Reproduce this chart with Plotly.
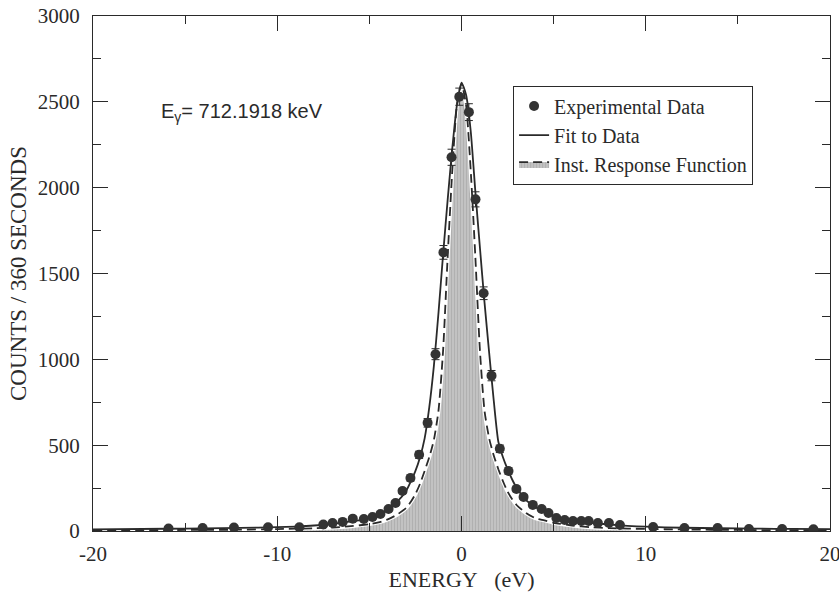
import plotly.graph_objects as go

# Experimental data (energy in eV, counts / 360 s, error)
exp_e = [-15.9, -14.05, -12.35, -10.5, -8.8, -7.5, -7.0, -6.45, -5.9, -5.3,
         -4.83, -4.4, -3.96, -3.58, -3.2, -2.77, -2.3, -1.84, -1.41, -0.98,
         -0.54, -0.12, 0.4, 0.76, 1.2, 1.63, 2.08, 2.55, 2.98, 3.37,
         3.87, 4.35, 4.72, 5.15, 5.6, 6.05, 6.5, 6.9, 7.4, 8.0,
         8.6, 10.4, 12.1, 13.9, 15.6, 17.4, 19.1]
exp_y = [15, 17, 20, 22, 22, 38, 47, 53, 72, 70,
         82, 99, 128, 163, 233, 309, 444, 630, 1030, 1623,
         2177, 2530, 2440, 1932, 1385, 905, 479, 350, 245, 198,
         152, 128, 105, 76, 64, 58, 58, 58, 47, 47,
         35, 23, 17, 17, 12, 12, 10]
exp_err = [4, 4, 4.5, 5, 5, 6, 7, 7, 8.5, 8.4,
           9, 10, 11, 13, 15, 18, 21, 25, 32, 40,
           47, 50, 49, 44, 37, 30, 22, 19, 16, 14,
           12, 11, 10, 9, 8, 8, 8, 8, 7, 7,
           6, 5, 4, 4, 3.5, 3.5, 3]

# Fit to data
fit_e = [-20, -16, -14, -12, -10, -9, -8, -7, -6, -5.5, -5, -4.5, -4, -3.5, -3,
         -2.75, -2.5, -2.25, -2, -1.75, -1.5, -1.25, -1, -0.75, -0.5, -0.25, 0,
         0.25, 0.5, 0.75, 1.0, 1.25, 1.5, 1.75, 2.0, 2.25, 2.5, 2.75, 3.0, 3.5,
         4.0, 4.5, 5.0, 5.5, 6.0, 7.0, 8.0, 9.0, 10, 12, 14, 16, 18, 20]
fit_y = [10, 13, 15, 18, 22, 26, 32, 42, 56, 64, 76, 96, 125, 170, 235,
         290, 350, 430, 540, 720, 960, 1270, 1610, 1930, 2230, 2480, 2612,
         2540, 2330, 1980, 1650, 1330, 1040, 760, 520, 430, 360, 300, 250, 180,
         140, 112, 88, 72, 62, 48, 38, 30, 25, 19, 16, 14, 12, 11]

# Instrument response function
irf_e = [-20, -15, -12, -10, -8, -7, -6, -5, -4.5, -4, -3.5, -3, -2.75, -2.5,
         -2.25, -2, -1.75, -1.5, -1.25, -1, -0.75, -0.5, -0.25, 0,
         0.25, 0.5, 0.75, 1, 1.25, 1.5, 1.75, 2, 2.25, 2.5, 2.75, 3, 3.5,
         4, 4.5, 5, 6, 7, 8, 10, 12, 15, 20]
irf_y = [4, 6, 8, 11, 16, 20, 28, 40, 50, 68, 95, 135, 170, 215,
         275, 350, 430, 530, 700, 1050, 1600, 2100, 2480, 2605,
         2480, 2100, 1600, 1050, 700, 540, 440, 360, 290, 230, 185, 150, 105,
         75, 62, 48, 32, 22, 17, 12, 9, 6, 4]

x_ticks = [-20, -10, 0, 10, 20]
x_ticktext = ['-20', '-10', '0', '10', '20']
y_ticks = [0, 500, 1000, 1500, 2000, 2500, 3000]

ink = '#2a2a2a'
serif = 'Liberation Serif'
fig = go.Figure()

fig.add_trace(go.Scatter(
    x=irf_e, y=irf_y, mode='lines', name='Inst. Response Function',
    line=dict(color=ink, width=1.8, dash='9px,5px', shape='spline', smoothing=0.6),
    fill='tozeroy', fillcolor='#bdbdbd',
    fillpattern=dict(shape='|', fgcolor='#9e9e9e', bgcolor='#c2c2c2', size=3, solidity=0.35),
    legendrank=3))
fig.add_trace(go.Scatter(
    x=irf_e, y=irf_y, mode='lines', showlegend=False, hoverinfo='skip',
    line=dict(color='white', width=4, shape='spline', smoothing=0.6)))
fig.add_trace(go.Scatter(
    x=irf_e, y=irf_y, mode='lines', showlegend=False, hoverinfo='skip',
    line=dict(color=ink, width=1.8, dash='9px,5px', shape='spline', smoothing=0.6)))
fig.add_trace(go.Scatter(
    x=fit_e, y=fit_y, mode='lines', name='Fit to Data',
    line=dict(color=ink, width=1.8, shape='spline', smoothing=0.6),
    legendrank=2))
fig.add_trace(go.Scatter(
    x=exp_e, y=exp_y, mode='markers', name='Experimental Data',
    marker=dict(color='#333333', size=10),
    error_y=dict(type='data', array=exp_err, visible=True, color=ink, thickness=1, width=4),
    legendrank=1))

axis_common = dict(
    showline=True, linecolor=ink, linewidth=1.2, mirror='ticks',
    ticks='inside', ticklen=15, tickwidth=1, tickcolor=ink,
    showgrid=False, zeroline=False, automargin=False,
    ticklabeloverflow='allow',
    tickfont=dict(family=serif, size=21, color=ink),
)

fig.update_layout(
    width=839, height=595,
    margin=dict(l=93, r=9, t=16, b=64),
    plot_bgcolor='white', paper_bgcolor='white',
    font=dict(family=serif, size=20, color=ink),
    xaxis=dict(range=[-20, 20], tickmode='array', tickvals=x_ticks, ticktext=x_ticktext,
               minor=dict(tickmode='linear', tick0=-20, dtick=5, ticks='inside', ticklen=8,
                          tickcolor=ink, tickwidth=1),
               title=dict(text='ENERGY\u00a0\u00a0\u00a0(eV)', standoff=6,
                          font=dict(family=serif, size=22, color=ink)),
               ticklabelstandoff=4,
               **axis_common),
    yaxis=dict(range=[0, 3000], tickmode='array', tickvals=y_ticks,
               minor=dict(tickmode='linear', tick0=0, dtick=250, ticks='inside', ticklen=8,
                          tickcolor=ink, tickwidth=1),
               title=dict(text='COUNTS / 360 SECONDS', standoff=4,
                          font=dict(family=serif, size=23, color=ink)),
               ticklabelstandoff=8,
               **axis_common),
    legend=dict(x=0.57, y=0.865, xanchor='left', yanchor='top',
                bordercolor=ink, borderwidth=1, bgcolor='white',
                font=dict(family=serif, size=20, color=ink),
                traceorder='normal'),
    showlegend=True,
    annotations=[dict(x=-16.4, y=2440, xref='x', yref='y', xanchor='left', yanchor='middle',
                      text='E<sub>γ</sub>= 712.1918 keV', showarrow=False,
                      font=dict(family='Liberation Sans', size=20, color=ink))],
)

fig.write_html('out.html', config={'displayModeBar': False},
               post_script="document.body.style.margin='0';document.body.style.overflow='hidden';")
